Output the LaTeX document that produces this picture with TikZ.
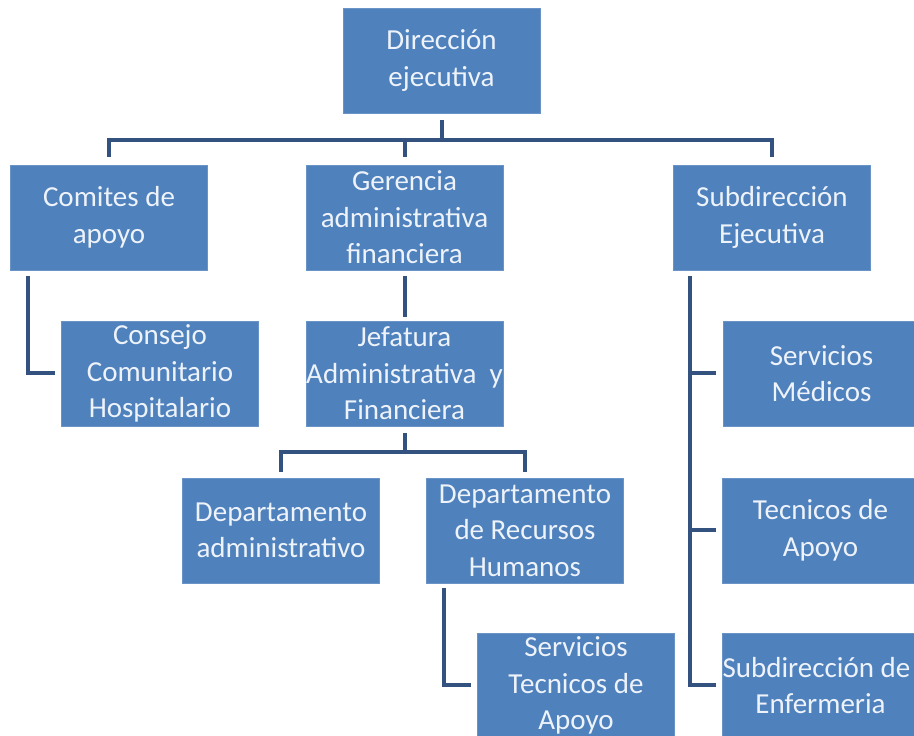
\documentclass[tikz,border=0pt]{standalone}
\usepackage{fontspec}
\setmainfont{Carlito}
\definecolor{boxblue}{HTML}{4F81BD}
\definecolor{boxedge}{HTML}{6A93C8}
\definecolor{linenavy}{HTML}{34527F}
\definecolor{txt}{HTML}{EEF3FA}
\begin{document}
\begin{tikzpicture}[x=1pt,y=1pt,
  orgbox/.style={rectangle, fill=boxblue, draw=boxedge, line width=0.8pt,
    minimum width=197pt, minimum height=105pt, inner sep=0pt,
    align=center, text=txt, font=\fontsize{29}{36.5}\selectfont},
  conn/.style={draw=linenavy, line width=4pt}]
\useasboundingbox (0,0) rectangle (914,736);
\clip (0,0) rectangle (914,736);
\fill[white] (0,0) rectangle (914,736);

\node[orgbox] (dir)  at (441.5,675.5) {Dirección\\ejecutiva};
\node[orgbox] (com)  at (109,518.5)   {Comites de\\apoyo};
\node[orgbox] (ger)  at (404.5,518.5) {Gerencia\\administrativa\\financiera};
\node[orgbox] (sub)  at (772,518.5)   {Subdirección\\Ejecutiva};
\node[orgbox] (con)  at (160,362.5)   {Consejo\\Comunitario\\Hospitalario};
\node[orgbox] (jef)  at (404.5,362.5) {Jefatura\\Administrativa~ y\\Financiera};
\node[orgbox] (med)  at (821.5,362.5) {Servicios\\Médicos};
\node[orgbox] (dadm) at (281,205.5)   {Departamento\\administrativo};
\node[orgbox] (drh)  at (525,205.5)   {Departamento\\de Recursos\\Humanos};
\node[orgbox] (tec)  at (820.5,205.5) {Tecnicos de\\Apoyo};
\node[orgbox] (stec) at (576,50.5)    {Servicios\\Tecnicos de\\Apoyo};
\node[orgbox] (enf)  at (820.5,50.5)  {\hspace*{-8pt}Subdirección de\\Enfermeria};

% top bus
\coordinate (bus1) at (441.5,596);
\draw[conn] ([yshift=-7pt]dir.south) -- (dir.south |- bus1);
\draw[conn] ([yshift=8pt]com.north) -- (com.north |- bus1) -- (sub.north |- bus1) -- ([yshift=8pt]sub.north);
\draw[conn] ([yshift=8pt]ger.north) -- (ger.north |- bus1);

% Comites -> Consejo
\draw[conn] ([xshift=18pt,yshift=-6pt]com.south west) |- ([xshift=-6pt]con.west);

% Gerencia -> Jefatura
\draw[conn] ([yshift=-6pt]ger.south) -- ([yshift=4pt]jef.north);

% Jefatura bus
\coordinate (bus2) at (404.5,284);
\draw[conn] ([yshift=-7pt]jef.south) -- (jef.south |- bus2);
\draw[conn] ([yshift=6pt]dadm.north) -- (dadm.north |- bus2) -- (drh.north |- bus2) -- ([yshift=6pt]drh.north);

% RRHH -> Servicios Tecnicos
\draw[conn] ([xshift=18pt,yshift=-5pt]drh.south west) |- ([xshift=-6pt]stec.west);

% Subdireccion column
\coordinate (subx) at ([xshift=17pt,yshift=-6pt]sub.south west);
\draw[conn] (subx) |- ([xshift=-6pt]enf.west);
\draw[conn] (subx |- med.west) -- ([xshift=-7pt]med.west);
\draw[conn] (subx |- tec.west) -- ([xshift=-6pt]tec.west);
\end{tikzpicture}
\end{document}
